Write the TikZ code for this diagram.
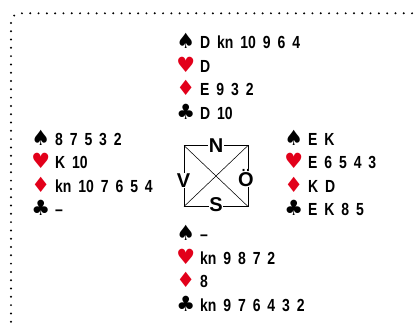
\documentclass[tikz,border=0pt]{standalone}
\usepackage{fontspec}
\setmainfont{Liberation Sans}
\newfontfamily\handfont{Liberation Sans}[UprightFont={* Bold}, FakeStretch=0.8]
\newfontfamily\suitfont{DejaVu Sans}
\newfontfamily\compassfont{Liberation Sans}[UprightFont={* Bold}]
\definecolor{suitred}{RGB}{226,0,26}
\newcommand\hrowx[3]{\makebox[15pt][c]{\suitfont\fontsize{21}{21}\selectfont\color{#1}#2}\hspace{7pt}{\spaceskip=6.9pt\relax #3}}
\tikzset{
  handrow/.style={anchor=base west, inner sep=0pt,
    font=\handfont\fontsize{17.5}{20}\selectfont},
  compass/.style={inner sep=0.8pt, fill=white,
    font=\compassfont\fontsize{20}{20}\selectfont},
  border/.style={line width=2.2pt, line cap=round, dash pattern=on 0pt off 8.3pt},
}
\begin{document}
\begin{tikzpicture}[x=1pt,y=-1pt]
\useasboundingbox (0,0) rectangle (416,327);
% dotted frame
\coordinate (fb) at (11,330);
\coordinate (fc) at (11,13.3);
\coordinate (fe) at (418,13.3);
\draw[border, rounded corners=9pt] (fb) -- (fc) -- (fe);
% North
\node[handrow] (n1) at (178,48.5) {\hrowx{black}{♠}{D kn 10 9 6 4}};
\node[handrow] (n2) at (178,72)   {\hrowx{suitred}{♥}{D}};
\node[handrow] (n3) at (178,95.5) {\hrowx{suitred}{♦}{E 9 3 2}};
\node[handrow] (n4) at (178,119)  {\hrowx{black}{♣}{D 10}};
% West
\node[handrow] (w1) at (33,145)   {\hrowx{black}{♠}{8 7 5 3 2}};
\node[handrow] (w2) at (33,168.5) {\hrowx{suitred}{♥}{K 10}};
\node[handrow] (w3) at (33,192)   {\hrowx{suitred}{♦}{kn 10 7 6 5 4}};
\node[handrow] (w4) at (33,215.5) {\hrowx{black}{♣}{–}};
% East
\node[handrow] (e1) at (286,145)   {\hrowx{black}{♠}{E K}};
\node[handrow] (e2) at (286,168.5) {\hrowx{suitred}{♥}{E 6 5 4 3}};
\node[handrow] (e3) at (286,192)   {\hrowx{suitred}{♦}{K D}};
\node[handrow] (e4) at (286,215.5) {\hrowx{black}{♣}{E K 8 5}};
% South
\node[handrow] (s1) at (178,240.5) {\hrowx{black}{♠}{–}};
\node[handrow] (s2) at (178,264)   {\hrowx{suitred}{♥}{kn 9 8 7 2}};
\node[handrow] (s3) at (178,287.5) {\hrowx{suitred}{♦}{8}};
\node[handrow] (s4) at (178,311)   {\hrowx{black}{♣}{kn 9 7 6 4 3 2}};
% compass
\coordinate (tl) at (184,145.5);
\coordinate (tr) at (248,145.5);
\coordinate (br) at (248,206.5);
\coordinate (bl) at (184,206.5);
\draw[line width=1pt] (tl) -- (tr) -- (br) -- (bl) -- cycle;
\draw[line width=0.55pt] (tl) -- (br) (tr) -- (bl);
\node[compass] (cN) at (216,145.5) {N};
\node[compass] (cS) at (216,205) {S};
\node[compass] (cV) at (183.5,180.5) {V};
\node[compass] (cO) at (246,178) {Ö};
\end{tikzpicture}
\end{document}
